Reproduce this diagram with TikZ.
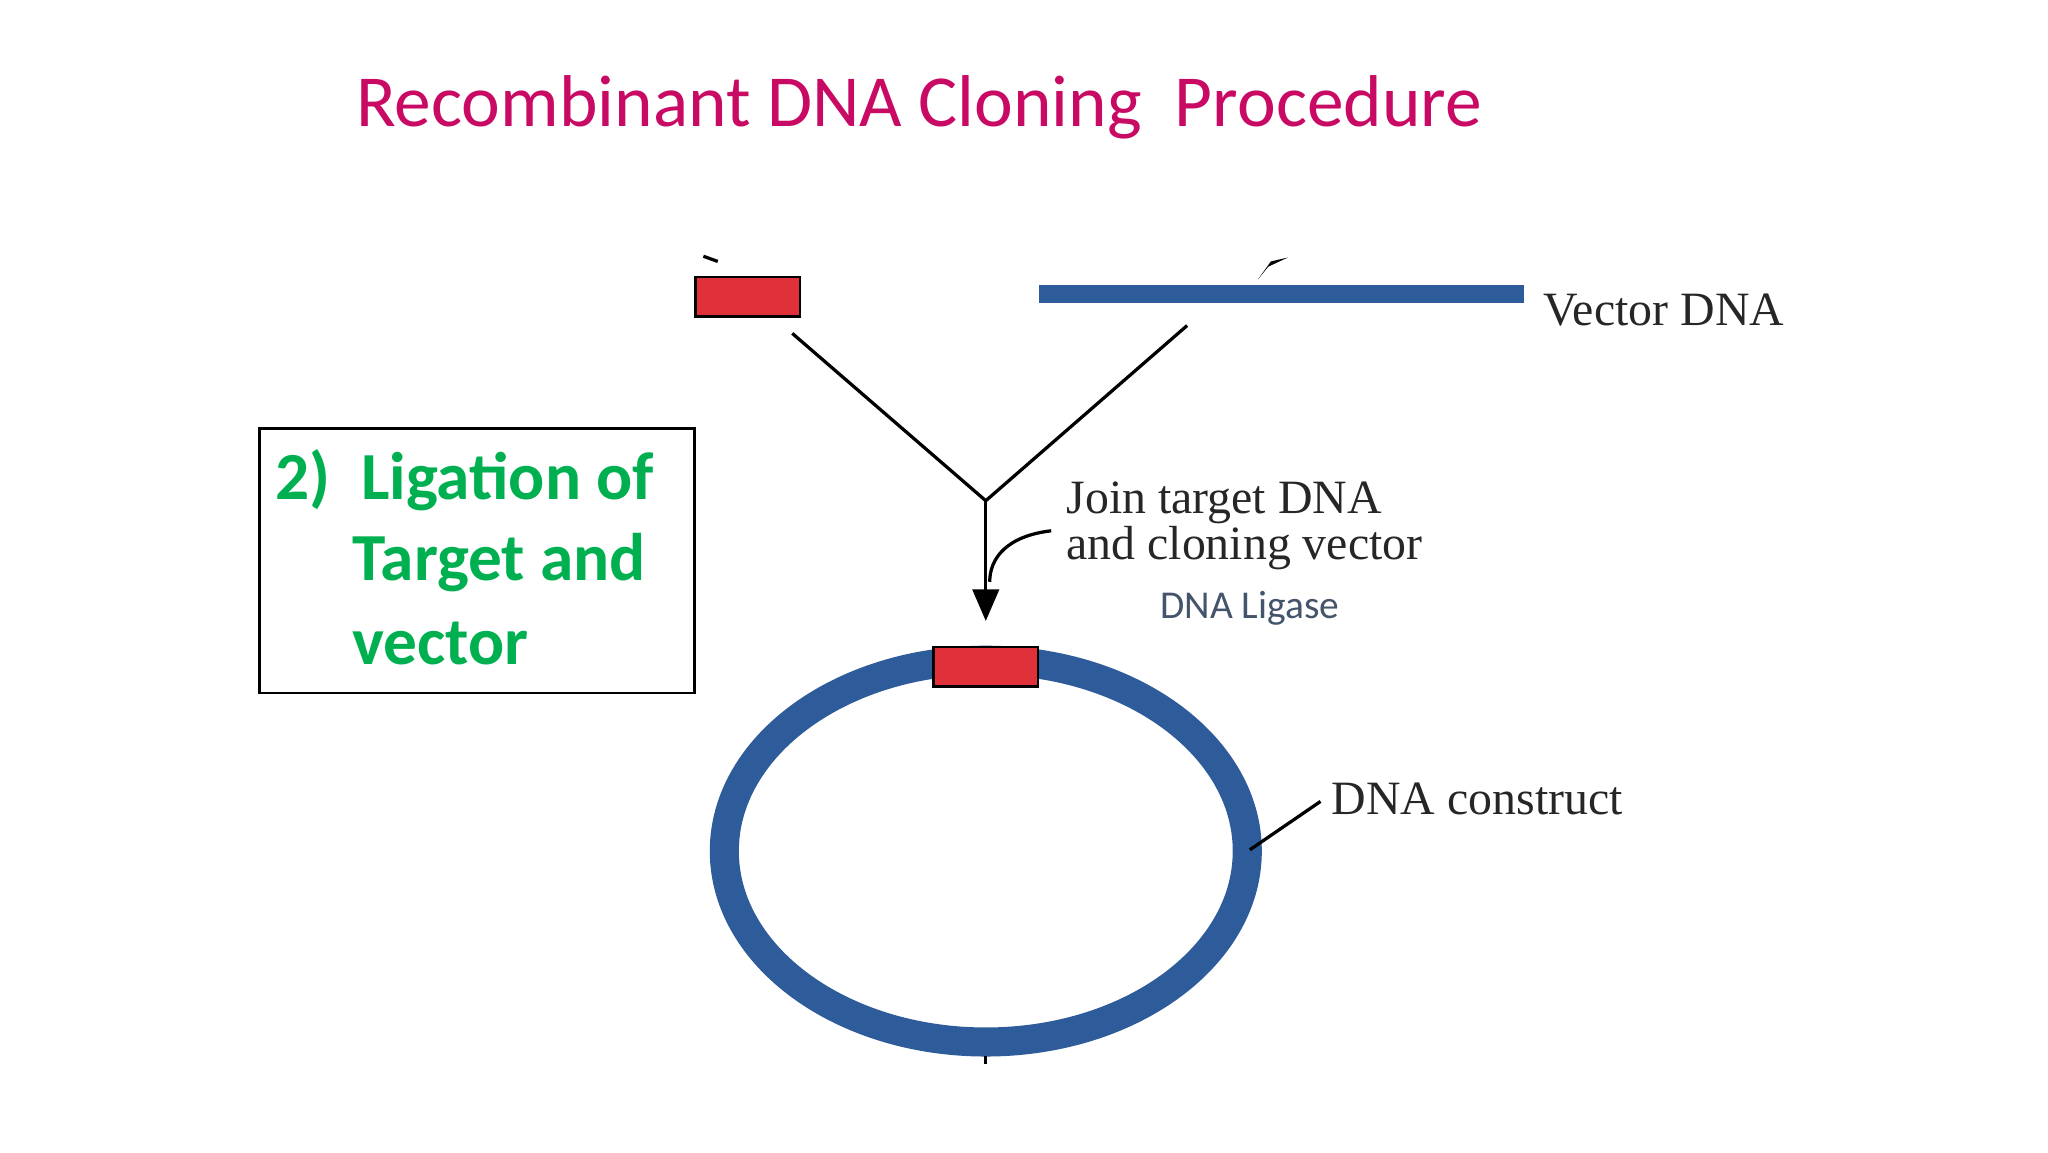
\documentclass[tikz,border=0pt]{standalone}
\usepackage{fontspec}
\setmainfont{Liberation Serif}
\newfontfamily\carl{Carlito}
\usetikzlibrary{arrows.meta}
\definecolor{ttl}{HTML}{C80A64}
\definecolor{dblue}{HTML}{2E5B9A}
\definecolor{dred}{HTML}{E0303A}
\definecolor{grn}{HTML}{00B050}
\definecolor{slate}{HTML}{44546A}
\begin{document}
\begin{tikzpicture}[x=1cm,y=1cm,
  redbox/.style={draw=black,fill=dred,line width=0.6pt,minimum width=0.79cm,minimum height=0.3cm,inner sep=0pt},
  lbl/.style={font=\fontsize{10.3}{11}\selectfont,anchor=west,inner sep=0pt,text=black!85},
  ln/.style={line width=0.7pt}]
\useasboundingbox (0,0) rectangle (15.5,8.72);
\begin{scope}[yshift=0.0916cm,scale=0.9895]
\node[font=\carl\fontsize{15.8}{19}\selectfont,text=ttl] (title) at (7.03,7.90) {Recombinant DNA Cloning\ \ Procedure};
\node[redbox] (t) at (5.72,6.45) {};
\fill[dblue] (7.95,6.40) rectangle (11.66,6.54);
\coordinate (v) at (9.08,6.23);
\node[lbl] (vd) at (11.80,6.35) {Vector DNA};
\draw[ln] (5.38,6.76) -- (5.49,6.72);
\fill (9.62,6.58) -- (9.72,6.72) -- (9.85,6.75) -- (9.70,6.68) -- cycle;
\coordinate (j) at (7.54,4.89);
\coordinate (tb) at (6.06,6.17);
\draw[ln] (tb) -- (j);
\draw[ln] (v) -- (j);
\coordinate (ah) at (7.54,3.97);
\draw[ln,-{Triangle[length=2.4mm,width=2mm]}] (j) -- (ah);
\draw[ln] (8.04,4.66) .. controls (7.70,4.62) and (7.57,4.45) .. (7.57,4.27);
\node[lbl,align=left] (jt) at (8.15,4.70) {Join target DNA\\[-1pt]and cloning vector};
\node[font=\carl\fontsize{8.5}{10}\selectfont,text=slate] (lig) at (9.56,4.07) {DNA Ligase};
\draw[dblue,line width=2.2mm] (7.54,2.21) ellipse (2.00 and 1.46);
\node[redbox] (t2) at (7.54,3.62) {};
\draw[ln] (7.54,0.58) -- (7.54,0.64);
\node[lbl] (dc) at (10.18,2.61) {DNA construct};
\coordinate (ce) at (9.56,2.22);
\draw[ln] (10.10,2.59) -- (ce);
\node[draw=black,line width=0.6pt,minimum width=3.29cm,minimum height=2.0cm,inner sep=0pt] (box) at (3.65,4.43) {};
\node[font=\carl\bfseries\fontsize{14.5}{18}\selectfont,text=grn,anchor=west,inner sep=0pt] (b1) at (2.10,5.05) {2)\ \ Ligation of};
\node[font=\carl\bfseries\fontsize{14.5}{18}\selectfont,text=grn,anchor=west,inner sep=0pt] (b2) at (2.69,4.42) {Target and};
\node[font=\carl\bfseries\fontsize{14.5}{18}\selectfont,text=grn,anchor=west,inner sep=0pt] (b3) at (2.69,3.80) {vector};
\end{scope}
\end{tikzpicture}
\end{document}
